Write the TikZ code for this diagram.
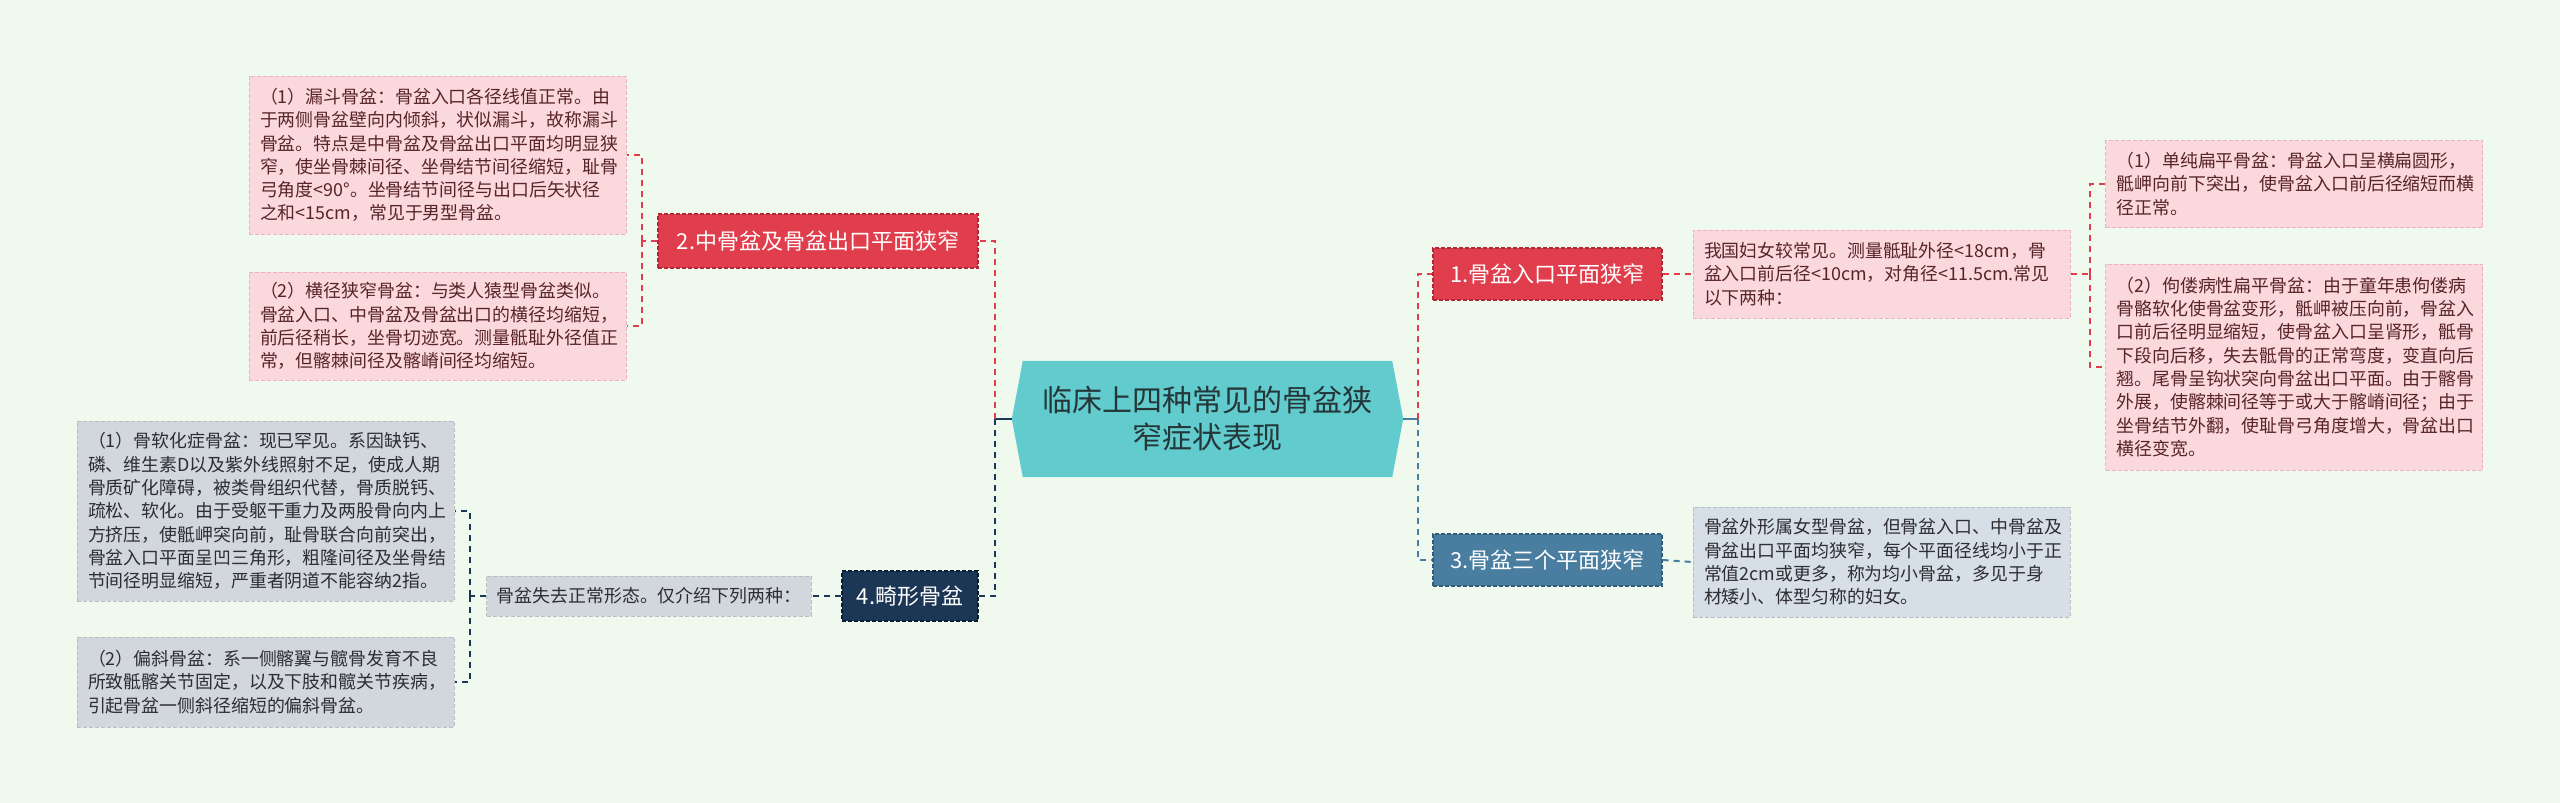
\documentclass[tikz,border=0pt]{standalone}
\usepackage{fontspec}
\setmainfont{Noto Sans CJK SC}
\usetikzlibrary{calc}
\definecolor{bgc}{RGB}{240,249,238}
\definecolor{redn}{RGB}{224,62,76}
\definecolor{redb}{RGB}{176,40,54}
\definecolor{pinkf}{RGB}{250,216,220}
\definecolor{pinkb}{RGB}{240,176,184}
\definecolor{pinkt}{RGB}{88,36,40}
\definecolor{grayf}{RGB}{210,214,221}
\definecolor{grayb}{RGB}{184,189,197}
\definecolor{grayt}{RGB}{45,45,50}
\definecolor{bluef}{RGB}{214,223,231}
\definecolor{steel}{RGB}{74,126,160}
\definecolor{steelb}{RGB}{50,92,122}
\definecolor{navy}{RGB}{28,54,86}
\definecolor{navyb}{RGB}{12,28,48}
\definecolor{teal}{RGB}{98,203,205}
\definecolor{tealt}{RGB}{36,54,56}
\tikzset{
  titlebox/.style={draw, dashed, dash pattern=on 4pt off 2pt, line width=1.2pt, text=white,
    font=\fontsize{22}{26}\selectfont, inner xsep=10pt, minimum height=52pt, anchor=center},
  redtitle/.style={titlebox, fill=redn, draw=redb},
  steeltitle/.style={titlebox, fill=steel, draw=steelb},
  navytitle/.style={titlebox, fill=navy, draw=navyb},
  detailbase/.style={draw, dashed, dash pattern=on 4pt off 2pt, line width=1pt,
    font=\fontsize{17.9}{23.3}\selectfont, align=left, inner xsep=11pt, anchor=center},
  detail/.style={detailbase, text width=355pt},
  pinkbox/.style={detail, fill=pinkf, draw=pinkb, text=pinkt},
  graybox/.style={detail, fill=grayf, draw=grayb, text=grayt},
  grayline/.style={detailbase, fill=grayf, draw=grayb, text=grayt},
  bluebox/.style={detail, fill=bluef, draw=grayb, text=grayt},
  conn/.style={line width=2pt, dash pattern=on 6pt off 5pt},
  redconn/.style={conn, draw=redn},
  navyconn/.style={conn, draw=navy},
  steelconn/.style={conn, draw=steel},
}
\begin{document}
\begin{tikzpicture}[x=1pt,y=-1pt]
\useasboundingbox (0,0) rectangle (2560,803);
\fill[bgc] (0,0) rectangle (2560,803);

% root
\node[minimum width=391pt, minimum height=116pt, inner sep=0pt] (root) at (1207.5,419) {};
\fill[teal] ($(root.north west)+(11,0)$) -- ($(root.north east)+(-11,0)$) -- (root.east)
  -- ($(root.south east)+(-11,0)$) -- ($(root.south west)+(11,0)$) -- (root.west) -- cycle;
\node[align=center, text=tealt, font=\fontsize{30}{37}\selectfont] (roottext) at (root.center) {临床上四种常见的骨盆狭\\窄症状表现};

% left main branches
\node[redtitle, minimum width=320pt, minimum height=54pt] (n2) at (818,241) {2.中骨盆及骨盆出口平面狭窄};
\node[navytitle, minimum width=136pt, minimum height=50pt] (n4) at (910,596) {4.畸形骨盆};

\node[pinkbox, minimum height=158pt] (d21) at (437.5,155) {（1）漏斗骨盆：骨盆入口各径线值正常。由\\于两侧骨盆壁向内倾斜，状似漏斗，故称漏斗\\骨盆。特点是中骨盆及骨盆出口平面均明显狭\\窄，使坐骨棘间径、坐骨结节间径缩短，耻骨\\弓角度<90°。坐骨结节间径与出口后矢状径\\之和<15cm，常见于男型骨盆。};
\node[pinkbox, minimum height=108pt] (d22) at (437.5,326) {（2）横径狭窄骨盆：与类人猿型骨盆类似。\\骨盆入口、中骨盆及骨盆出口的横径均缩短，\\前后径稍长，坐骨切迹宽。测量骶耻外径值正\\常，但髂棘间径及髂嵴间径均缩短。};

\node[grayline, minimum width=324pt, minimum height=40pt, inner xsep=10pt] (d4) at (649,596) {骨盆失去正常形态。仅介绍下列两种：};
\node[graybox, minimum height=180pt] (d41) at (265.5,511) {（1）骨软化症骨盆：现已罕见。系因缺钙、\\磷、维生素D以及紫外线照射不足，使成人期\\骨质矿化障碍，被类骨组织代替，骨质脱钙、\\疏松、软化。由于受躯干重力及两股骨向内上\\方挤压，使骶岬突向前，耻骨联合向前突出，\\骨盆入口平面呈凹三角形，粗隆间径及坐骨结\\节间径明显缩短，严重者阴道不能容纳2指。};
\node[graybox, minimum height=90pt] (d42) at (265.5,682) {（2）偏斜骨盆：系一侧髂翼与髋骨发育不良\\所致骶髂关节固定，以及下肢和髋关节疾病，\\引起骨盆一侧斜径缩短的偏斜骨盆。};

% right main branches
\node[redtitle, minimum width=229pt] (n1) at (1547.5,274) {1.骨盆入口平面狭窄};
\node[steeltitle, minimum width=229pt] (n3) at (1547.5,560) {3.骨盆三个平面狭窄};

\node[pinkbox, minimum height=88pt] (d1) at (1881.5,274) {我国妇女较常见。测量骶耻外径<18cm，骨\\盆入口前后径<10cm，对角径<11.5cm.常见\\以下两种：};
\node[pinkbox, minimum height=87pt] (d11) at (2294,184) {（1）单纯扁平骨盆：骨盆入口呈横扁圆形，\\骶岬向前下突出，使骨盆入口前后径缩短而横\\径正常。};
\node[pinkbox, minimum height=206pt] (d12) at (2294,367) {（2）佝偻病性扁平骨盆：由于童年患佝偻病\\骨骼软化使骨盆变形，骶岬被压向前，骨盆入\\口前后径明显缩短，使骨盆入口呈肾形，骶骨\\下段向后移，失去骶骨的正常弯度，变直向后\\翘。尾骨呈钩状突向骨盆出口平面。由于髂骨\\外展，使髂棘间径等于或大于髂嵴间径；由于\\坐骨结节外翻，使耻骨弓角度增大，骨盆出口\\横径变宽。};
\node[bluebox, minimum height=110pt] (d3) at (1881.5,562) {骨盆外形属女型骨盆，但骨盆入口、中骨盆及\\骨盆出口平面均狭窄，每个平面径线均小于正\\常值2cm或更多，称为均小骨盆，多见于身\\材矮小、体型匀称的妇女。};

% junction coordinates
\coordinate (lj) at (995,419);
\coordinate (rj) at (1418,419);
\coordinate (j2) at (642,241);
\coordinate (j4) at (470,596);
\coordinate (j1) at (2090,274);

% root stubs
\draw[navy, line width=2pt] (root.west) -- (lj);
\draw[steel, line width=2pt] (root.east) -- (rj);

% left connectors
\draw[redconn] (lj) |- (n2.east);
\draw[navyconn] (lj) |- (n4.east);
\draw[redconn] (n2.west) -- (j2);
\draw[redconn] (j2) |- (d21.east);
\draw[redconn] (j2) |- (d22.east);
\draw[navyconn] (n4.west) -- (d4.east);
\draw[navyconn] (d4.west) -- (j4);
\draw[navyconn] (j4) |- (d41.east);
\draw[navyconn] (j4) |- (d42.east);

% right connectors
\draw[redconn] (rj) |- (n1.west);
\draw[steelconn] (rj) |- (n3.west);
\draw[redconn] (n1.east) -- (d1.west);
\draw[steelconn] (n3.east) -- (d3.west);
\draw[redconn] (d1.east) -- (j1);
\draw[redconn] (j1) |- (d11.west);
\draw[redconn] (j1) |- (d12.west);
\end{tikzpicture}
\end{document}
